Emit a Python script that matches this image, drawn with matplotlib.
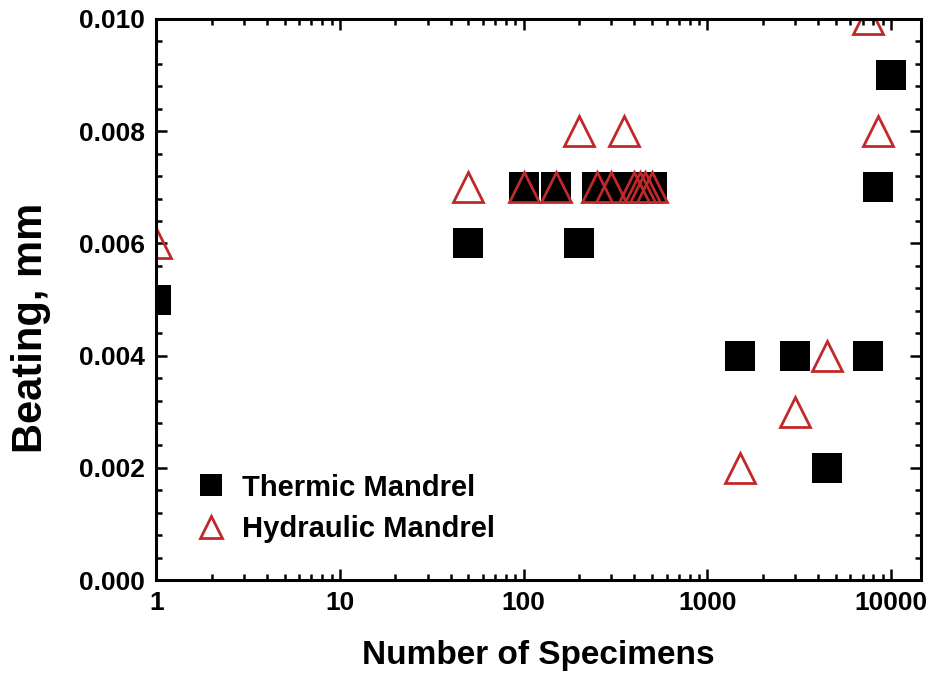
import matplotlib.pyplot as plt
from matplotlib.ticker import FixedLocator, MultipleLocator, FormatStrFormatter, LogLocator, NullFormatter

plt.rcParams['font.family'] = ['Liberation Sans', 'DejaVu Sans']
plt.rcParams['font.weight'] = 'bold'

thermic_n = [1, 50, 100, 150, 200, 250, 300, 400, 500, 1500, 3000, 4500, 7500, 8500, 10000]
thermic_beat = [0.005, 0.006, 0.007, 0.007, 0.006, 0.007, 0.007, 0.007, 0.007,
                0.004, 0.004, 0.002, 0.004, 0.007, 0.009]

hydraulic_n = [1, 50, 100, 150, 200, 250, 300, 350, 400, 430, 460, 500,
               1500, 3000, 4500, 7500, 8500]
hydraulic_beat = [0.006, 0.007, 0.007, 0.007, 0.008, 0.007, 0.007, 0.008, 0.007, 0.007, 0.007, 0.007,
                  0.002, 0.003, 0.004, 0.010, 0.008]

x_ticks = [1, 10, 100, 1000, 10000]
x_labels = ['1', '10', '100', '1000', '10000']

fig = plt.figure(figsize=(9.3, 6.77), dpi=100)
ax = fig.add_axes([0.168, 0.143, 0.822, 0.829])

ax.plot(thermic_n, thermic_beat, 's', color='black', markersize=21, markeredgewidth=0,
        label='Thermic Mandrel')
ax.plot(hydraulic_n, hydraulic_beat, '^', markerfacecolor='none', markeredgecolor='#c0282a',
        markersize=21, markeredgewidth=2, label='Hydraulic Mandrel')

ax.set_xscale('log')
ax.set_xlim(1, 14500)
ax.set_ylim(0, 0.010)
ax.xaxis.set_major_locator(FixedLocator(x_ticks))
ax.set_xticklabels(x_labels)
ax.xaxis.set_minor_locator(LogLocator(base=10, subs=range(2, 10)))
ax.xaxis.set_minor_formatter(NullFormatter())
ax.yaxis.set_major_locator(MultipleLocator(0.002))
ax.yaxis.set_minor_locator(MultipleLocator(0.0004))
ax.yaxis.set_major_formatter(FormatStrFormatter('%.3f'))

for s in ax.spines.values():
    s.set_linewidth(2.2)
ax.tick_params(which='both', direction='in', top=True, right=True, width=1.8, labelsize=19)
ax.tick_params(which='major', length=8, pad=8)
ax.tick_params(which='minor', length=4.5)

ax.set_xlabel('Number of Specimens', fontsize=24, fontweight='bold', labelpad=18)
ax.set_ylabel('Beating, mm', fontsize=30, fontweight='bold')
ax.yaxis.set_label_coords(-0.138, 0.45)

ax.legend(loc='lower left', bbox_to_anchor=(0.015, 0.02), frameon=False, fontsize=21,
          markerscale=0.75, handletextpad=0.45, labelspacing=0.45, handlelength=1.2)

fig.savefig('out.png', dpi=100)
